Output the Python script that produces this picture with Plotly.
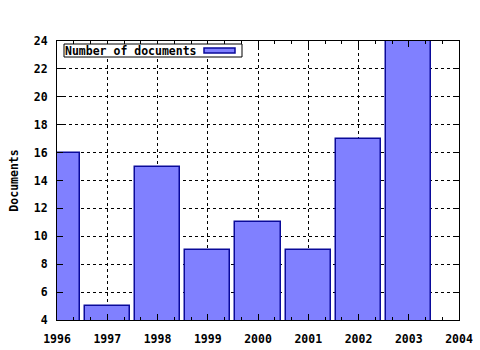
import plotly.graph_objects as go

years = [1996, 1997, 1998, 1999, 2000, 2001, 2002, 2003]
documents = [16, 5, 15, 9, 11, 9, 17, 24]
series_name = "Number of documents"
y_title = "Documents"

FONT = dict(family="DejaVu Sans Mono", size=11.5, color="black", weight="bold")
FILL = "#8080ff"
EDGE = "#0a0a9a"

fig = go.Figure()
fig.add_trace(go.Bar(
    x=years, y=documents, width=0.9, name=series_name,
    marker=dict(color=FILL, line=dict(color=EDGE, width=1.5)),
    showlegend=False,
))

axis_common = dict(
    showline=True, linecolor="black", linewidth=1, mirror="allticks",
    ticks="inside", ticklen=6, tickcolor="black",
    showgrid=True, gridcolor="black", gridwidth=1, griddash="3px,3px",
    zeroline=False, tickfont=FONT, automargin=False,
)

fig.update_xaxes(range=[1996, 2004], dtick=1, tick0=1996,
                 minor=dict(dtick=1/3, tick0=1996, ticks="inside", ticklen=3,
                            tickcolor="black", showgrid=False),
                 ticklabelstandoff=8,
                 **axis_common)
fig.update_yaxes(range=[4, 24], dtick=2, tick0=4,
                 title=dict(text=y_title, font=FONT, standoff=12),
                 ticklabelstandoff=6,
                 **axis_common)

# legend box (gnuplot style: text then sample)
W, H = 402, 279
def px(x): return (x - 57) / W
def py(y): return (320 - y) / H

fig.add_shape(type="rect", xref="paper", yref="paper",
              x0=px(64), x1=px(242), y0=py(57), y1=py(44),
              fillcolor="white", line=dict(color="black", width=1))
fig.add_shape(type="rect", xref="paper", yref="paper",
              x0=px(204), x1=px(235), y0=py(53), y1=py(48),
              fillcolor=FILL, line=dict(color=EDGE, width=1.5))
fig.add_annotation(
    x=px(64), y=py(50.5), xref="paper", yref="paper", xanchor="left", yanchor="middle",
    text=series_name, showarrow=False, font=FONT, align="left",
    borderpad=0,
)

fig.update_layout(
    width=480, height=350,
    margin=dict(l=57, r=21, t=41, b=30),
    paper_bgcolor="white", plot_bgcolor="white",
    bargap=0, font=FONT,
)
fig.write_html("out.html")
